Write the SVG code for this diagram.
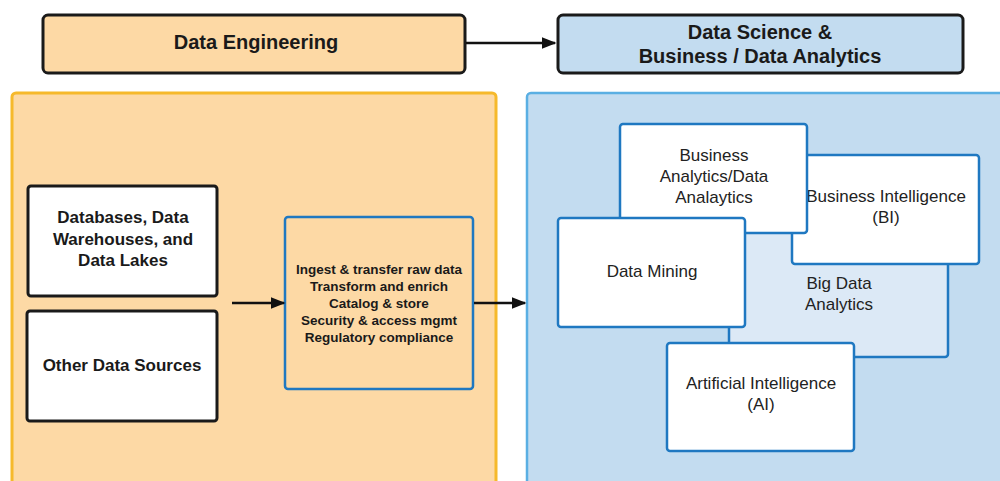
<svg xmlns="http://www.w3.org/2000/svg" width="1000" height="481" viewBox="0 0 1000 481">
  <style>
    .hdr { stroke: #1a1a1a; stroke-width: 3; }
    .src { fill: #ffffff; stroke: #1a1a1a; stroke-width: 3; }
    .blue { stroke: #1f78c1; stroke-width: 2.5; }
    .card { fill: #ffffff; stroke: #1f78c1; stroke-width: 2.5; }
    .tb { font-family: "Liberation Sans", Arial, sans-serif; font-weight: bold; fill: #1a1a1a; text-anchor: middle; }
    .tn { font-family: "Liberation Sans", Arial, sans-serif; fill: #222222; text-anchor: middle; font-size: 17px; }
    .conn { stroke: #111111; stroke-width: 2.5; fill: none; }
  </style>
  <defs>
    <marker id="arrow" viewBox="0 0 10 10" refX="9" refY="5" markerWidth="6" markerHeight="6" orient="auto" markerUnits="strokeWidth">
      <path d="M0,1 L10,5 L0,9 z" fill="#111111"/>
    </marker>
  </defs>

  <rect width="1000" height="481" fill="#ffffff"/>

  <!-- section panels -->
  <g id="panel-engineering">
    <rect x="12" y="93" width="484" height="400" rx="4" fill="#fdd9a5" stroke="#f6b92b" stroke-width="3"/>
  </g>
  <g id="panel-analytics">
    <rect x="527" y="93" width="490" height="400" rx="4" fill="#c3dcf0" stroke="#5aafe3" stroke-width="2.5"/>
  </g>

  <!-- headers -->
  <g id="hdr-engineering">
    <rect class="hdr" x="43" y="15" width="422" height="58" rx="5" fill="#fdd9a5"/>
    <text class="tb" x="256" y="49" font-size="20">Data Engineering</text>
  </g>
  <g id="hdr-analytics">
    <rect class="hdr" x="558" y="15" width="405" height="58" rx="5" fill="#c3dcf0"/>
    <text class="tb" x="760" y="39" font-size="20">Data Science &amp;</text>
    <text class="tb" x="760" y="63" font-size="20">Business / Data Analytics</text>
  </g>

  <!-- data sources -->
  <g id="src-databases">
    <rect class="src" x="28" y="186" width="189" height="110" rx="3"/>
    <text class="tb" x="123" y="223" font-size="17">Databases, Data</text>
    <text class="tb" x="123" y="245" font-size="17">Warehouses, and</text>
    <text class="tb" x="123" y="266" font-size="17">Data Lakes</text>
  </g>
  <g id="src-other">
    <rect class="src" x="27" y="311" width="190" height="110" rx="3"/>
    <text class="tb" x="122" y="371" font-size="17">Other Data Sources</text>
  </g>

  <!-- engineering process -->
  <g id="process">
    <rect class="blue" x="285" y="217" width="188" height="172" rx="3" fill="#fdd9a5"/>
    <text class="tb" x="379" y="274" font-size="13.5">Ingest &amp; transfer raw data</text>
    <text class="tb" x="379" y="291" font-size="13.5">Transform and enrich</text>
    <text class="tb" x="379" y="308" font-size="13.5">Catalog &amp; store</text>
    <text class="tb" x="379" y="325" font-size="13.5">Security &amp; access mgmt</text>
    <text class="tb" x="379" y="342" font-size="13.5">Regulatory compliance</text>
  </g>

  <!-- analytics disciplines, back to front -->
  <g id="big-data">
    <rect x="729" y="200" width="219" height="157" rx="3" fill="#dce9f6" stroke="#1f78c1" stroke-width="2.5"/>
    <text class="tn" x="839" y="289">Big Data</text>
    <text class="tn" x="839" y="310">Analytics</text>
  </g>
  <g id="bi">
    <rect class="card" x="792" y="155" width="187" height="109" rx="3"/>
    <text class="tn" x="886" y="202">Business Intelligence</text>
    <text class="tn" x="886" y="223">(BI)</text>
  </g>
  <g id="business-analytics">
    <rect class="card" x="620" y="124" width="187" height="109" rx="3"/>
    <text class="tn" x="714" y="161">Business</text>
    <text class="tn" x="714" y="182">Analytics/Data</text>
    <text class="tn" x="714" y="203">Analaytics</text>
  </g>
  <g id="data-mining">
    <rect class="card" x="558" y="218" width="187" height="109" rx="3"/>
    <text class="tn" x="652" y="277">Data Mining</text>
  </g>
  <g id="ai">
    <rect class="card" x="667" y="343" width="187" height="108" rx="3"/>
    <text class="tn" x="761" y="389">Artificial Intelligence</text>
    <text class="tn" x="761" y="410">(AI)</text>
  </g>

  <!-- connectors -->
  <g id="connectors">
    <line class="conn" x1="466" y1="43" x2="555" y2="43" marker-end="url(#arrow)"/>
    <line class="conn" x1="232" y1="303" x2="284" y2="303" marker-end="url(#arrow)"/>
    <line class="conn" x1="474" y1="303" x2="525" y2="303" marker-end="url(#arrow)"/>
  </g>
</svg>
